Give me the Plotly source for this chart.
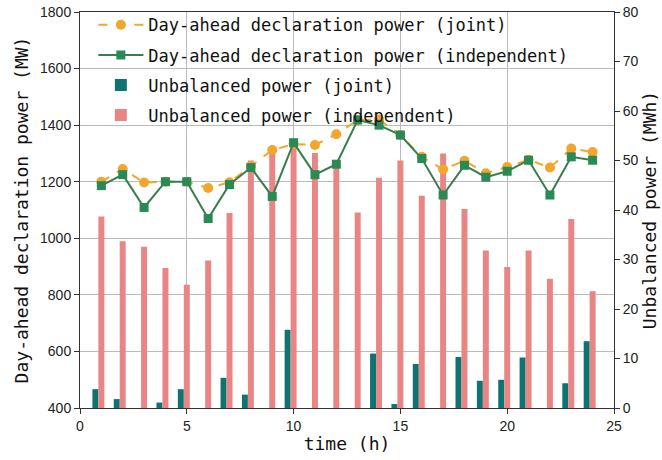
import plotly.graph_objects as go

hours = list(range(1, 25))
declared_joint = [1200, 1245, 1197, 1200, 1200, 1178, 1198, 1255, 1312, 1333, 1330, 1368,
                  1418, 1420, 1365, 1288, 1244, 1274, 1230, 1252, 1278, 1250, 1317, 1305]
declared_indep = [1186, 1225, 1109, 1200, 1200, 1070, 1190, 1250, 1148, 1338, 1225, 1262,
                  1418, 1400, 1365, 1282, 1153, 1258, 1216, 1237, 1276, 1153, 1288, 1276]
unbal_joint = [3.8, 1.8, 0, 1.1, 3.8, 0, 6.1, 2.7, 0, 15.8, 0, 0,
               0, 11.0, 0.8, 8.9, 0, 10.3, 5.5, 5.7, 10.2, 0, 5.0, 13.5]
unbal_indep = [38.7, 33.7, 32.6, 28.3, 24.9, 29.8, 39.4, 50.0, 52.2, 54.2, 51.5, 48.5,
               39.5, 46.5, 50.0, 42.9, 51.4, 40.2, 31.8, 28.5, 31.8, 26.1, 38.2, 23.6]

names = ["Day-ahead declaration power (joint)",
         "Day-ahead declaration power (independent)",
         "Unbalanced power (joint)",
         "Unbalanced power (independent)"]

mono = "DejaVu Sans Mono"
sans = "Liberation Sans, Arial"

fig = go.Figure()
fig.add_trace(go.Scatter(x=hours, y=declared_joint, name=names[0], yaxis="y2",
                         legendgroup="g1", mode="lines+markers",
                         line=dict(color="#F2A62C", width=2, dash="dash"),
                         marker=dict(symbol="circle", size=10, color="#F2A62C")))
fig.add_trace(go.Scatter(x=hours, y=declared_indep, name=names[1], yaxis="y2",
                         legendgroup="g2", mode="lines+markers",
                         line=dict(color="#3A7D4C", width=2),
                         marker=dict(symbol="square", size=9, color="#2A8A55")))
fig.add_trace(go.Bar(x=hours, y=unbal_joint, name=names[2], yaxis="y", legendgroup="g3",
                     width=0.28, offset=-0.42, marker=dict(color="#0F7372", line=dict(width=0))))
fig.add_trace(go.Bar(x=hours, y=unbal_indep, name=names[3], yaxis="y", legendgroup="g4",
                     width=0.28, offset=-0.14, marker=dict(color="#EA8585", line=dict(width=0))))

axis_common = dict(showline=True, linecolor="#333333", linewidth=1, ticks="outside",
                   ticklen=5, tickcolor="#333333", tickfont=dict(family=sans, size=14, color="#222"),
                   automargin=False)

fig.update_layout(
    width=662, height=460,
    margin=dict(l=80, r=48, t=12, b=52, autoexpand=False),
    plot_bgcolor="white", paper_bgcolor="white",
    barmode="overlay",
    showlegend=True,
    legend=dict(x=0.025, y=1.012, xanchor="left", yanchor="top",
                bgcolor="rgba(0,0,0,0)", borderwidth=0, traceorder="grouped",
                tracegroupgap=5, itemwidth=45,
                font=dict(family=mono, size=17, color="#111")),
    xaxis=dict(range=[0, 25], tickvals=[0, 5, 10, 15, 20, 25], mirror=True,
               showgrid=True, gridcolor="#BBBBBB", gridwidth=1, zeroline=False,
               title=dict(text="time (h)", font=dict(family=mono, size=18, color="#111"), standoff=4),
               **axis_common),
    yaxis=dict(side="right", range=[0, 80], tickvals=list(range(0, 81, 10)),
               showgrid=False, zeroline=False,
               title=dict(text="Unbalanced power (MWh)", font=dict(family=mono, size=18, color="#111"), standoff=2),
               **axis_common),
    yaxis2=dict(side="left", overlaying="y", range=[400, 1800],
                tickvals=list(range(400, 1801, 200)),
                showgrid=True, gridcolor="#BBBBBB", gridwidth=1, zeroline=False,
                title=dict(text="Day-ahead declaration power (MW)", font=dict(family=mono, size=18, color="#111"), standoff=6),
                **axis_common),
)

fig.write_html("out.html")
